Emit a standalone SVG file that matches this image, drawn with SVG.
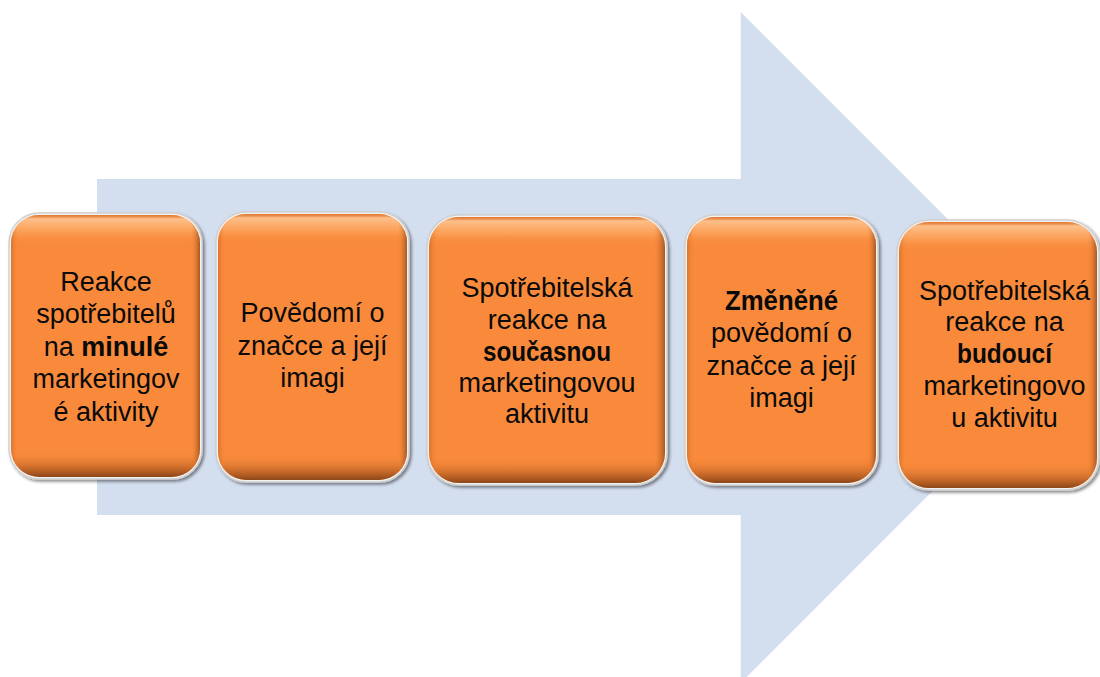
<svg xmlns="http://www.w3.org/2000/svg" width="1100" height="677" viewBox="0 0 1100 677">
  <defs>
    <style>
      .rim { fill: #f2f2f2; stroke: #d0d0d0; stroke-width: 1.5; }
      .body { fill: #F98A3B; }
      .vshade { fill: url(#vshade); }
      .hshade { fill: url(#hshade); }
      .lbl { font-family: "Liberation Sans", Arial, sans-serif; font-size: 27px; fill: #0a0a0a; text-anchor: middle; }
      .b { font-weight: bold; }
    </style>
    <linearGradient id="vshade" x1="0" y1="0" x2="0" y2="1">
      <stop offset="0" stop-color="#c8621f" stop-opacity="0.5"/>
      <stop offset="0.015" stop-color="#ffd2a6" stop-opacity="0.75"/>
      <stop offset="0.06" stop-color="#ffb97a" stop-opacity="0.5"/>
      <stop offset="0.11" stop-color="#F98A3B" stop-opacity="0"/>
      <stop offset="0.9" stop-color="#F98A3B" stop-opacity="0"/>
      <stop offset="0.965" stop-color="#a5521c" stop-opacity="0.55"/>
      <stop offset="1" stop-color="#6e3410" stop-opacity="0.8"/>
    </linearGradient>
    <linearGradient id="hshade" x1="0" y1="0" x2="1" y2="0">
      <stop offset="0" stop-color="#b85a1c" stop-opacity="0.45"/>
      <stop offset="0.04" stop-color="#F98A3B" stop-opacity="0"/>
      <stop offset="0.95" stop-color="#F98A3B" stop-opacity="0"/>
      <stop offset="1" stop-color="#6e3410" stop-opacity="0.6"/>
    </linearGradient>
    <filter id="shadow" x="-10%" y="-10%" width="120%" height="120%">
      <feGaussianBlur in="SourceAlpha" stdDeviation="1.5"/>
      <feOffset dx="1.5" dy="1.5" result="o"/>
      <feFlood flood-color="#000" flood-opacity="0.45"/>
      <feComposite in2="o" operator="in"/>
      <feMerge>
        <feMergeNode/>
        <feMergeNode in="SourceGraphic"/>
      </feMerge>
    </filter>
  </defs>

  <rect width="1100" height="677" fill="#ffffff"/>

  <!-- background flow arrow -->
  <g id="flow-arrow">
    <polygon points="97,179 740.7,179 740.7,12 1076,347.5 740.7,683 740.7,515 97,515" fill="#D3DEEF"/>
  </g>

  <g id="connectors"></g>

  <!-- step 1 -->
  <g id="n1">
    <rect class="rim" x="9" y="213" width="193" height="266" rx="30" filter="url(#shadow)"/>
    <rect class="body" x="11" y="215" width="189" height="262" rx="28"/>
    <rect class="vshade" x="11" y="215" width="189" height="262" rx="28"/>
    <rect class="hshade" x="11" y="215" width="189" height="262" rx="28"/>
    <text class="lbl" x="106" y="290.5">Reakce</text>
    <text class="lbl" x="106" y="323">spotřebitelů</text>
    <text class="lbl" x="106" y="355.5">na <tspan class="b">minulé</tspan></text>
    <text class="lbl" x="106" y="388">marketingov</text>
    <text class="lbl" x="106" y="420.5">é aktivity</text>
  </g>

  <!-- step 2 -->
  <g id="n2">
    <rect class="rim" x="216" y="212" width="193" height="270" rx="30" filter="url(#shadow)"/>
    <rect class="body" x="218" y="214" width="189" height="266" rx="28"/>
    <rect class="vshade" x="218" y="214" width="189" height="266" rx="28"/>
    <rect class="hshade" x="218" y="214" width="189" height="266" rx="28"/>
    <text class="lbl" x="312.5" y="322">Povědomí o</text>
    <text class="lbl" x="312.5" y="354.5">značce a její</text>
    <text class="lbl" x="312.5" y="387">imagi</text>
  </g>

  <!-- step 3 -->
  <g id="n3">
    <rect class="rim" x="427" y="215" width="240" height="270" rx="32" filter="url(#shadow)"/>
    <rect class="body" x="429" y="217" width="236" height="266" rx="30"/>
    <rect class="vshade" x="429" y="217" width="236" height="266" rx="30"/>
    <rect class="hshade" x="429" y="217" width="236" height="266" rx="30"/>
    <text class="lbl" x="547" y="296.5">Spotřebitelská</text>
    <text class="lbl" x="547" y="328.5">reakce na</text>
    <text class="lbl b" x="547" y="360.5" textLength="128" lengthAdjust="spacingAndGlyphs">současnou</text>
    <text class="lbl" x="547" y="392">marketingovou</text>
    <text class="lbl" x="547" y="423">aktivitu</text>
  </g>

  <!-- step 4 -->
  <g id="n4">
    <rect class="rim" x="685" y="215" width="193" height="270" rx="30" filter="url(#shadow)"/>
    <rect class="body" x="687" y="217" width="189" height="266" rx="28"/>
    <rect class="vshade" x="687" y="217" width="189" height="266" rx="28"/>
    <rect class="hshade" x="687" y="217" width="189" height="266" rx="28"/>
    <text class="lbl b" x="781.5" y="310" textLength="113" lengthAdjust="spacingAndGlyphs">Změněné</text>
    <text class="lbl" x="781.5" y="342">povědomí o</text>
    <text class="lbl" x="781.5" y="375">značce a její</text>
    <text class="lbl" x="781.5" y="407">imagi</text>
  </g>

  <!-- step 5 -->
  <g id="n5">
    <rect class="rim" x="897" y="220" width="202" height="270" rx="32" filter="url(#shadow)"/>
    <rect class="body" x="899" y="222" width="198" height="266" rx="30"/>
    <rect class="vshade" x="899" y="222" width="198" height="266" rx="30"/>
    <rect class="hshade" x="899" y="222" width="198" height="266" rx="30"/>
    <text class="lbl" x="1004.5" y="299.5">Spotřebitelská</text>
    <text class="lbl" x="1004.5" y="331">reakce na</text>
    <text class="lbl b" x="1004.5" y="363" textLength="95" lengthAdjust="spacingAndGlyphs">budoucí</text>
    <text class="lbl" x="1004.5" y="395">marketingovo</text>
    <text class="lbl" x="1004.5" y="427">u aktivitu</text>
  </g>
</svg>
